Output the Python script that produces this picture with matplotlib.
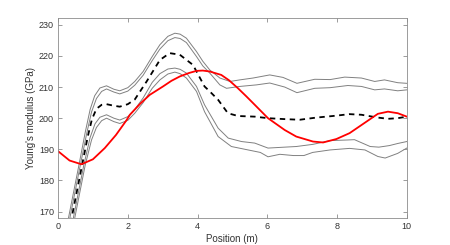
import numpy as np
import matplotlib
matplotlib.use("Agg")
import matplotlib.pyplot as plt

plt.rcParams['font.family'] = ['Liberation Sans', 'DejaVu Sans']

# values
# red curve
x_red = [0.0, 0.33, 0.67, 1.0, 1.34, 1.66, 1.96, 2.06, 2.35, 2.63, 3.01, 3.25, 3.49,
         3.75, 3.97, 4.15, 4.35, 4.68, 4.9, 5.16, 5.4, 5.64, 6.02, 6.5, 6.83, 7.31,
         7.6, 7.98, 8.36, 8.7, 9.17, 9.46, 9.74, 10.0]
y_red = [189.4, 186.4, 185.2, 186.8, 190.4, 194.6, 199.3, 201.1, 204.6, 207.5, 210.2,
         212.0, 213.4, 214.5, 215.2, 215.3, 215.0, 213.9, 212.2, 209.6, 207.0, 204.3,
         200.0, 196.2, 194.1, 192.5, 192.2, 193.3, 195.2, 197.8, 201.4, 202.1, 201.6, 200.5]

# dashed mean curve
x_mean = [0.25, 0.39, 0.69, 0.85, 0.97, 1.1, 1.25, 1.39, 1.6, 1.77, 2.0, 2.2, 2.54,
          2.92, 3.2, 3.49, 3.87, 4.2, 4.35, 4.59, 4.87, 5.16, 5.64, 6.02, 6.5, 6.93,
          7.41, 7.88, 8.36, 8.7, 9.17, 9.46, 9.74, 10.0]
y_mean = [160.0, 168.0, 185.0, 194.0, 199.6, 203.0, 204.3, 204.5, 204.0, 203.7, 204.5,
          206.0, 211.8, 218.7, 220.9, 220.4, 217.1, 210.2, 208.6, 205.9, 201.6, 200.7,
          200.5, 200.0, 199.7, 199.5, 200.2, 200.7, 201.3, 201.1, 200.2, 199.8, 200.0, 200.5]

# grey curves
x_up1 = [0.16, 0.30, 0.60, 0.78, 0.92, 1.05, 1.2, 1.39, 1.6, 1.77, 2.0, 2.2, 2.44,
         2.7, 2.92, 3.15, 3.35, 3.5, 3.68, 3.97, 4.15, 4.35, 4.64, 4.93, 5.21, 5.59,
         6.07, 6.45, 6.85, 7.36, 7.8, 8.22, 8.7, 9.08, 9.36, 9.74, 10.0]
y_up1 = [160.0, 168.0, 185.0, 195.5, 202.8, 207.2, 209.7, 210.4, 209.3, 208.8, 209.8,
         211.8, 215.0, 219.8, 223.6, 226.3, 227.3, 227.0, 225.7, 221.4, 218.3, 215.5,
         212.9, 211.8, 212.3, 212.9, 213.9, 213.1, 211.2, 212.5, 212.4, 213.2, 212.9,
         211.8, 212.3, 211.4, 211.2]

x_up2 = [0.2, 0.34, 0.64, 0.82, 0.96, 1.1, 1.25, 1.39, 1.6, 1.77, 2.0, 2.2, 2.44,
         2.7, 2.92, 3.15, 3.35, 3.5, 3.68, 3.97, 4.15, 4.35, 4.64, 4.83, 5.21, 5.69,
         6.07, 6.5, 6.85, 7.36, 7.8, 8.31, 8.7, 9.08, 9.36, 9.74, 10.0]
y_up2 = [160.0, 168.0, 185.0, 195.0, 202.0, 206.3, 208.6, 209.4, 208.4, 207.8, 208.7,
         210.6, 213.8, 218.5, 222.2, 224.9, 225.9, 225.6, 224.3, 219.8, 216.8, 214.5,
         210.7, 209.6, 210.2, 210.7, 211.3, 210.0, 208.2, 209.6, 209.8, 210.5, 210.2,
         209.1, 209.4, 208.8, 209.1]

x_lo2 = [0.3, 0.44, 0.74, 0.92, 1.06, 1.2, 1.39, 1.6, 1.77, 2.0, 2.2, 2.44, 2.7,
         2.92, 3.15, 3.35, 3.5, 3.68, 3.97, 4.2, 4.59, 4.88, 5.26, 5.64, 6.02, 6.5,
         6.83, 7.31, 7.8, 8.3, 8.5, 8.95, 9.2, 9.5, 9.75, 10.0]
y_lo2 = [160.0, 168.0, 185.0, 193.8, 198.2, 200.3, 201.1, 200.0, 199.4, 200.5, 202.8,
         206.5, 211.5, 214.3, 215.8, 216.1, 215.7, 214.5, 210.2, 204.3, 196.8, 193.6,
         192.5, 192.0, 190.4, 190.7, 190.9, 191.6, 192.8, 193.0, 193.1, 190.9, 190.7,
         191.2, 191.9, 192.5]

x_lo1 = [0.34, 0.48, 0.78, 0.96, 1.1, 1.25, 1.39, 1.6, 1.77, 2.0, 2.2, 2.44, 2.7,
         2.92, 3.15, 3.35, 3.5, 3.68, 3.97, 4.2, 4.59, 4.97, 5.45, 5.8, 6.02, 6.36,
         6.75, 7.05, 7.3, 7.8, 8.36, 8.8, 9.17, 9.38, 9.74, 10.0]
y_lo1 = [160.0, 168.0, 185.0, 193.0, 197.0, 199.2, 200.0, 198.9, 198.3, 199.3, 201.6,
         205.0, 209.6, 212.3, 214.2, 214.8, 214.3, 212.9, 208.6, 202.1, 194.1, 190.9,
         189.8, 189.0, 187.6, 188.4, 188.0, 188.0, 189.0, 189.8, 190.3, 189.8, 187.7,
         187.2, 188.7, 190.4]

x_ticks = [0, 2, 4, 6, 8, 10]
y_ticks = [170, 180, 190, 200, 210, 220, 230]

fig = plt.figure(figsize=(4.5, 2.45), dpi=100)
ax = fig.add_axes([0.129, 0.111, 0.775, 0.817])

grey = '#808080'
for xs, ys in [(x_up1, y_up1), (x_up2, y_up2), (x_lo2, y_lo2), (x_lo1, y_lo1)]:
    ax.plot(xs, ys, color=grey, lw=0.7)
ax.plot(x_mean, y_mean, color='black', lw=1.3, ls=(0, (3, 2.5)))
ax.plot(x_red, y_red, color='#ff0000', lw=1.3)

ax.set_xlim(0, 10)
ax.set_ylim(168, 232.3)
ax.set_xticks(x_ticks)
ax.set_yticks(y_ticks)

axis_col = '#8c8c8c'
for s in ax.spines.values():
    s.set_color(axis_col)
    s.set_linewidth(0.6)
ax.tick_params(direction='in', length=3, width=0.6, color=axis_col,
               labelsize=6.5, labelcolor='#333333', top=True, right=True, pad=3)

ax.set_xlabel('Position (m)', fontsize=7, color='#333333', labelpad=2)
ax.set_ylabel("Young's modulus (GPa)", fontsize=7, color='#333333', labelpad=2)

fig.savefig('out.png', dpi=100)
